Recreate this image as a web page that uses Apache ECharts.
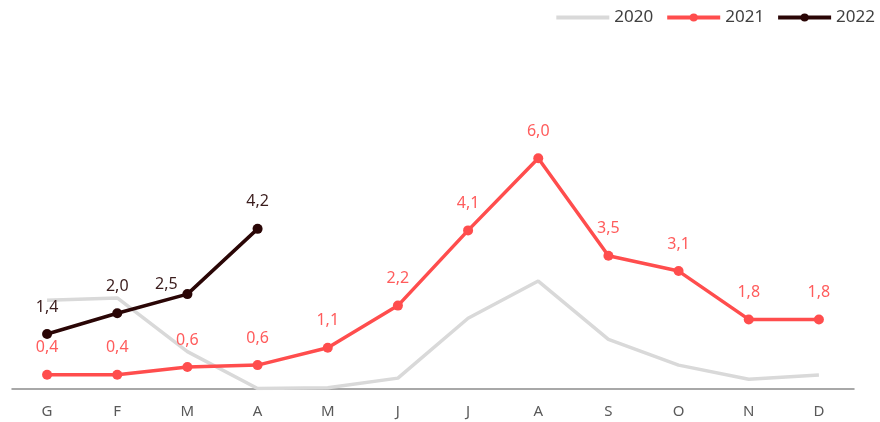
<!DOCTYPE html>
<html><head><meta charset="utf-8">
<script src="https://cdn.jsdelivr.net/npm/echarts@6/dist/echarts.min.js"></script>
<style>html,body{margin:0;padding:0;background:#fff}#c{width:880px;height:422px}</style>
</head><body><div id="c"></div>
<script>
const months = ['G','F','M','A','M','J','J','A','S','O','N','D'];
const seriesNames = ['2020','2021','2022'];
const v2020 = [2.30, 2.36, 0.96, 0.0, 0.02, 0.27, 1.83, 2.80, 1.28, 0.61, 0.24, 0.35];
const v2021 = [0.36, 0.36, 0.56, 0.61, 1.06, 2.16, 4.12, 6.0, 3.46, 3.06, 1.8, 1.8];
const v2022 = [1.42, 1.96, 2.46, 4.16];

const fmt = p => p.value.toFixed(1).replace('.', ',');
const font = 'Noto Sans';
const chart = echarts.init(document.getElementById('c'), null, {renderer:'canvas'});
chart.setOption({
  animation:false,
  textStyle:{fontFamily:font},
  legend:{
    right:0, top:4, itemWidth:53, itemHeight:10, itemGap:12,
    textStyle:{fontSize:17, color:'#404040', fontFamily:font},
    data:[
      {name:seriesNames[0], itemStyle:{color:'rgba(0,0,0,0)', borderWidth:0}, lineStyle:{width:4}},
      {name:seriesNames[1], lineStyle:{width:4}},
      {name:seriesNames[2], lineStyle:{width:4}}
    ]
  },
  grid:{left:12, right:26, top:81.5, bottom:33.5},
  xAxis:{
    type:'category', data:months, boundaryGap:true,
    axisLine:{lineStyle:{color:'#8c8c8c', width:1.5}},
    axisTick:{show:false},
    axisLabel:{color:'#595959', fontSize:15, margin:16, fontFamily:font}
  },
  yAxis:{type:'value', min:0, max:8, show:false, splitLine:{show:false}},
  series:[
    {name:seriesNames[0], type:'line', data:v2020, showSymbol:false, symbol:'none',
     lineStyle:{color:'#d9d9d9', width:3.5}, itemStyle:{color:'#d9d9d9'}, z:1},
    {name:seriesNames[1], type:'line', data:v2021, symbol:'circle', symbolSize:10,
     lineStyle:{color:'#ff4d4d', width:3.5}, itemStyle:{color:'#ff4d4d'}, z:2,
     label:{show:true, position:'top', distance:14, formatter:fmt, color:'#ff5c5c', fontSize:16, fontFamily:font}},
    {name:seriesNames[2], type:'line', data:v2022, symbol:'circle', symbolSize:10,
     lineStyle:{color:'#2a0606', width:3.5}, itemStyle:{color:'#2a0606'}, z:3,
     label:{show:true, position:'top', distance:14, formatter:fmt, color:'#3a1c1c', fontSize:16, fontFamily:font},
     labelLayout:function(params){
       if(params.dataIndex===2){
         return {dx:-21, dy:17};
       }
       return {};
     }}
  ]
});
</script></body></html>
